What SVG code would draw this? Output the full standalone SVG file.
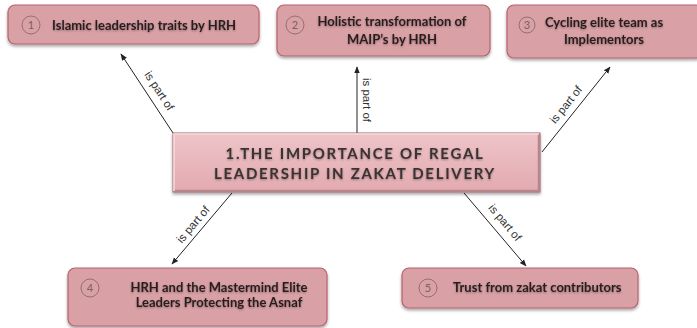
<svg xmlns="http://www.w3.org/2000/svg" width="697" height="328" viewBox="0 0 697 328">
  <defs>
    <filter id="sh" x="-10%" y="-20%" width="120%" height="150%">
      <feDropShadow dx="0" dy="2" stdDeviation="1.5" flood-color="#000" flood-opacity="0.35"/>
    </filter>
    <filter id="tsh" x="-5%" y="-20%" width="110%" height="150%">
      <feDropShadow dx="0" dy="1" stdDeviation="0.8" flood-color="#000" flood-opacity="0.35"/>
    </filter>
    <linearGradient id="cg" x1="0" y1="0" x2="0" y2="1">
      <stop offset="0" stop-color="#eec4c8"/>
      <stop offset="1" stop-color="#e2aab0"/>
    </linearGradient>
    <marker id="ah" viewBox="0 0 10 10" refX="9" refY="5" markerWidth="7" markerHeight="7" orient="auto" markerUnits="userSpaceOnUse">
      <path d="M0,1 L10,5 L0,9 Z" fill="#222"/>
    </marker>
  </defs>
  <style>
    .box{fill:#d9a1a6;stroke:#b8626c;stroke-width:1.2;}
    .num{fill:none;stroke:#8a6a6a;stroke-width:0.9;}
    .numt{font-family:"Lato","Open Sans",sans-serif;font-size:11px;fill:#7a6060;text-anchor:middle;}
    .bt{font-family:"Lato","Open Sans",sans-serif;font-weight:bold;font-size:13px;fill:#2a1e1e;}
    .ct{font-family:"Lato","Open Sans",sans-serif;font-weight:bold;font-size:15px;fill:#3a3232;letter-spacing:1.7px;text-anchor:middle;}
    .lbl{font-family:"Liberation Sans",Arial,sans-serif;font-size:11.5px;fill:#333;text-anchor:middle;}
    .conn line{stroke:#222;stroke-width:1;marker-end:url(#ah);}
  </style>
  <rect width="697" height="328" fill="#fff"/>

  <g class="conn" id="connectors">
    <line x1="173" y1="133" x2="121" y2="54"/>
    <line x1="357" y1="133" x2="357" y2="67"/>
    <line x1="542" y1="152" x2="610" y2="67"/>
    <line x1="232" y1="193" x2="172" y2="264"/>
    <line x1="464" y1="193" x2="526" y2="266"/>
    <text class="lbl" transform="translate(156,93) rotate(56.7)">is part of</text>
    <text class="lbl" transform="translate(363,100) rotate(90)">is part of</text>
    <text class="lbl" transform="translate(569,107) rotate(-51.3)">is part of</text>
    <text class="lbl" transform="translate(196,227) rotate(-49.8)">is part of</text>
    <text class="lbl" transform="translate(502,225) rotate(49.7)">is part of</text>
  </g>

  <g id="node1">
    <rect class="box" x="8" y="5" width="251" height="39" rx="7" filter="url(#sh)"/>
    <circle class="num" cx="31" cy="25" r="9"/>
    <text class="numt" x="31" y="29">1</text>
    <text class="bt" x="52" y="29.5" filter="url(#tsh)">Islamic leadership traits by HRH</text>
  </g>

  <g id="node2">
    <rect class="box" x="277" y="5" width="213" height="51" rx="7" filter="url(#sh)"/>
    <circle class="num" cx="295" cy="25" r="9"/>
    <text class="numt" x="295" y="29">2</text>
    <text class="bt" x="392" y="26" text-anchor="middle" filter="url(#tsh)">Holistic transformation of</text>
    <text class="bt" x="392" y="44" text-anchor="middle" filter="url(#tsh)">MAIP’s by HRH</text>
  </g>

  <g id="node3">
    <rect class="box" x="507" y="5" width="196" height="53" rx="7" filter="url(#sh)"/>
    <circle class="num" cx="527" cy="25" r="8"/>
    <text class="numt" x="527" y="29">3</text>
    <text class="bt" x="604" y="27" text-anchor="middle" filter="url(#tsh)">Cycling elite team as</text>
    <text class="bt" x="604" y="44" text-anchor="middle" filter="url(#tsh)">Implementors</text>
  </g>

  <g id="center">
    <rect x="173" y="133" width="367" height="59" fill="url(#cg)" stroke="#a46a70" stroke-width="1" filter="url(#sh)"/>
    <path d="M174,191 L539,191 L539,134" fill="none" stroke="#b7868a" stroke-width="2.5"/>
    <path d="M174,191 L174,134 L539,134" fill="none" stroke="#f6dcde" stroke-width="1.5"/>
    <text class="ct" x="355" y="159" filter="url(#tsh)">1.THE IMPORTANCE OF REGAL</text>
    <text class="ct" x="355" y="179" filter="url(#tsh)">LEADERSHIP IN ZAKAT DELIVERY</text>
  </g>

  <g id="node4">
    <rect class="box" x="68" y="268" width="259" height="58" rx="7" filter="url(#sh)"/>
    <circle class="num" cx="90" cy="288" r="9"/>
    <text class="numt" x="90" y="292">4</text>
    <text class="bt" x="219" y="292" text-anchor="middle" filter="url(#tsh)">HRH and the Mastermind Elite</text>
    <text class="bt" x="219" y="307" text-anchor="middle" filter="url(#tsh)">Leaders Protecting the Asnaf</text>
  </g>

  <g id="node5">
    <rect class="box" x="402" y="268" width="236" height="40" rx="7" filter="url(#sh)"/>
    <circle class="num" cx="428" cy="288" r="9"/>
    <text class="numt" x="428" y="292">5</text>
    <text class="bt" x="453" y="292" filter="url(#tsh)">Trust from zakat contributors</text>
  </g>
</svg>
